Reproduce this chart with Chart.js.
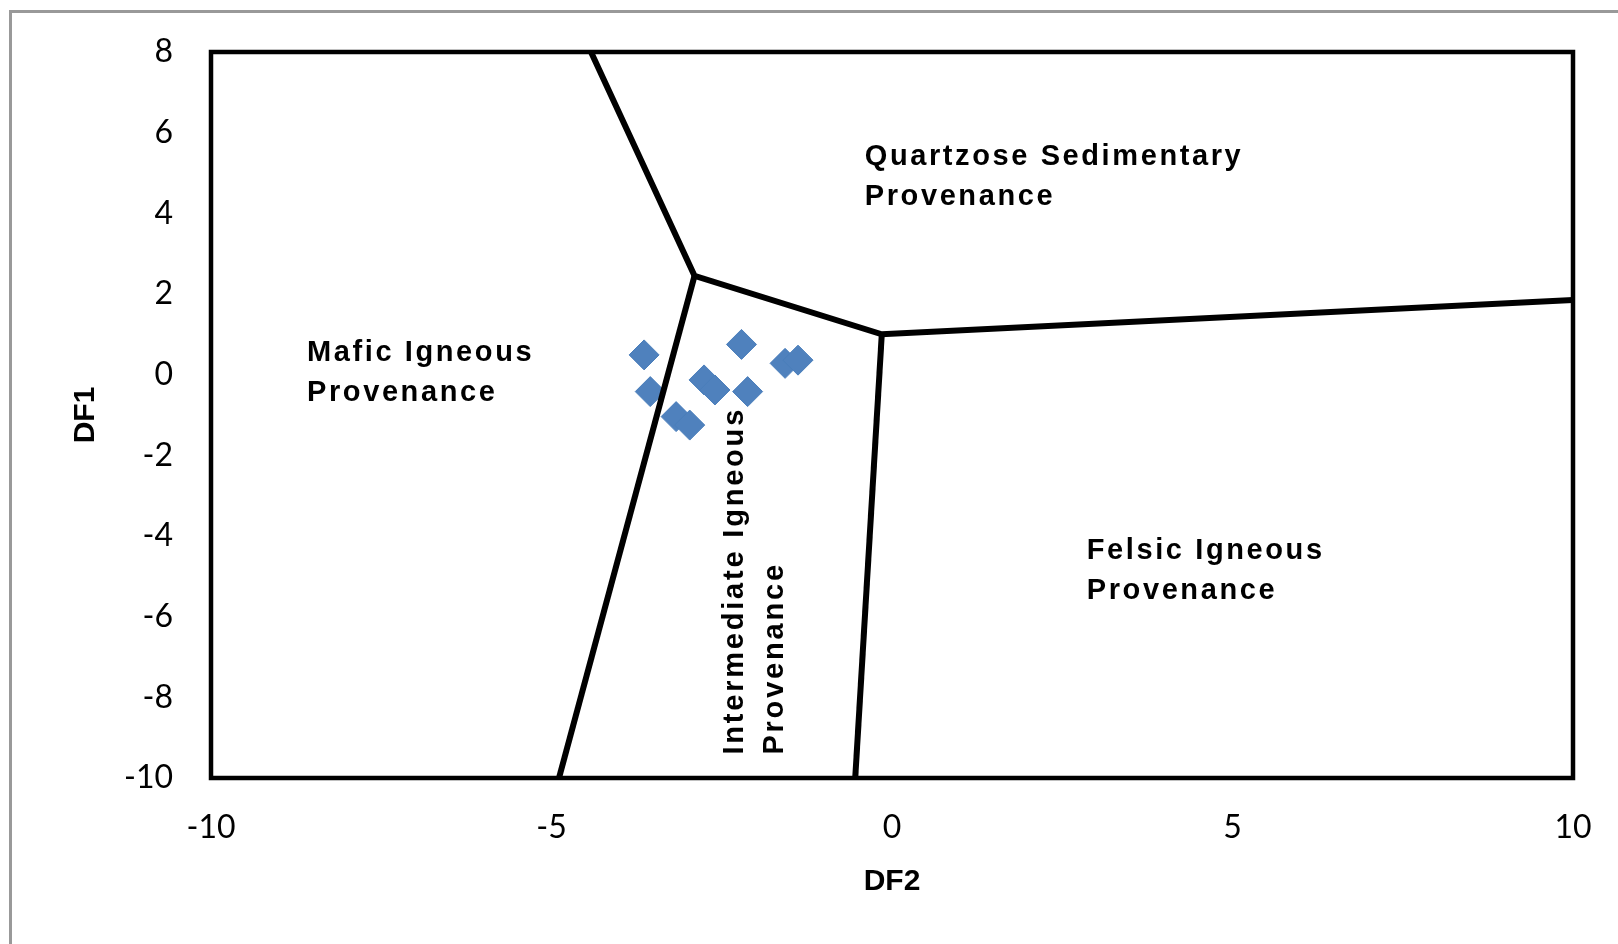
<!DOCTYPE html>
<html>
<head>
<meta charset="utf-8">
<title>DF1 vs DF2 provenance diagram</title>
<script src="https://cdn.jsdelivr.net/npm/chart.js@4.4.1/dist/chart.umd.min.js"></script>
<style>
  html, body { margin: 0; padding: 0; background: #fff; overflow: hidden; }
  #frame { position: absolute; left: 9px; top: 10px; width: 1700px; height: 1000px; border: 3px solid #999; }
  #wrap { position: absolute; left: 0; top: 0; width: 1618px; height: 944px; }
</style>
</head>
<body>
<div id="frame"></div>
<div id="wrap"><canvas id="chartDF" width="1618" height="944"></canvas></div>
<script>
// samples (DF2 on x, DF1 on y)
const sampleDF2 = [-3.64, -2.21, -1.57, -1.38, -3.55, -2.76, -2.60, -2.12, -3.17, -2.97];
const sampleDF1 = [0.49, 0.75, 0.28, 0.36, -0.42, -0.13, -0.38, -0.42, -1.04, -1.25];

// field boundaries
const upperBoundaryX = [-4.42, -2.9, -0.15, 10];
const upperBoundaryY = [8, 2.45, 1.0, 1.85];
const mafIntBoundaryX = [-4.89, -2.9];
const mafIntBoundaryY = [-10, 2.45];
const intFelBoundaryX = [-0.54, -0.15];
const intFelBoundaryY = [-10, 1.0];

// axis ticks
const df2Ticks = [-10, -5, 0, 5, 10];
const df1Ticks = [-10, -8, -6, -4, -2, 0, 2, 4, 6, 8];

const toPoints = (xs, ys) => xs.map((v, i) => ({ x: v, y: ys[i] }));

// field names, anchored in data units
const fieldLabels = [
  { lines: ["Quartzose Sedimentary", "Provenance"], x: -0.40, y: 5.40 },
  { lines: ["Mafic Igneous", "Provenance"], x: -8.59, y: 0.54 },
  { lines: ["Felsic Igneous", "Provenance"], x: 2.86, y: -4.37 },
  { lines: ["Intermediate Igneous", "Provenance"], x: -2.30, y: -9.42, vertical: true },
];

const plotBorder = {
  id: "plotBorder",
  beforeDatasetsDraw(chart) {
    const { ctx, chartArea: a } = chart;
    ctx.save();
    ctx.strokeStyle = "#000";
    ctx.lineWidth = 4.5;
    ctx.strokeRect(a.left, a.top, a.width, a.height);
    ctx.restore();
  },
};

const fieldText = {
  id: "fieldText",
  afterDatasetsDraw(chart) {
    const { ctx, scales: { x, y } } = chart;
    ctx.save();
    ctx.fillStyle = "#000";
    ctx.font = 'bold 29px "Liberation Sans", Arial, sans-serif';
    ctx.textAlign = "left";
    ctx.textBaseline = "middle";
    fieldLabels.forEach((f) => {
      ctx.save();
      if ("letterSpacing" in ctx) ctx.letterSpacing = f.vertical ? "2.8px" : "2.6px";
      ctx.translate(x.getPixelForValue(f.x), y.getPixelForValue(f.y));
      if (f.vertical) ctx.rotate(-Math.PI / 2);
      f.lines.forEach((t, i) => ctx.fillText(t, 0, i * 40));
      ctx.restore();
    });
    ctx.restore();
  },
};

// keep the plot area where the layout puts it (no extra room for edge labels)
const noEdgePadding = (s) => {
  s.paddingTop = 0;
  s.paddingBottom = 0;
  s.paddingLeft = 0;
  s.paddingRight = 0;
};

const lineStyle = {
  showLine: true,
  borderColor: "#000",
  borderWidth: 6,
  pointRadius: 0,
  pointHoverRadius: 0,
  fill: false,
  order: 0,
};

const tickFont = { family: "Lato", size: 32 };
const titleFont = { family: '"Liberation Sans", Arial', size: 30, weight: "bold" };

const ctx = document.getElementById("chartDF").getContext("2d");
new Chart(ctx, {
  type: "scatter",
  data: {
    datasets: [
      { ...lineStyle, label: "upper", data: toPoints(upperBoundaryX, upperBoundaryY) },
      { ...lineStyle, label: "mafic-int", data: toPoints(mafIntBoundaryX, mafIntBoundaryY) },
      { ...lineStyle, label: "int-felsic", data: toPoints(intFelBoundaryX, intFelBoundaryY) },
      {
        label: "Samples",
        data: toPoints(sampleDF2, sampleDF1),
        pointStyle: "rectRot",
        pointRadius: 15,
        pointBackgroundColor: "#4F81BD",
        pointBorderColor: "#4A7EBB",
        pointBorderWidth: 1,
        order: 1,
      },
    ],
  },
  options: {
    responsive: false,
    animation: false,
    layout: { padding: { top: 52, right: 45, bottom: 0, left: 0 } },
    plugins: {
      legend: { display: false },
      tooltip: { enabled: false },
    },
    scales: {
      x: {
        type: "linear",
        min: -10,
        max: 10,
        afterBuildTicks: (s) => { s.ticks = df2Ticks.map((v) => ({ value: v })); },
        afterFit: (s) => { s.height = 166; noEdgePadding(s); },
        grid: { display: false, drawTicks: false },
        border: { display: false },
        ticks: { color: "#000", font: tickFont, padding: 30, maxRotation: 0 },
        title: { display: true, text: "DF2", color: "#000", font: titleFont, padding: { top: 0, bottom: 44 } },
      },
      y: {
        type: "linear",
        min: -10,
        max: 8,
        afterBuildTicks: (s) => { s.ticks = df1Ticks.map((v) => ({ value: v })); },
        afterFit: (s) => { s.width = 211; noEdgePadding(s); },
        grid: { display: false, drawTicks: false },
        border: { display: false },
        ticks: { color: "#000", font: tickFont, padding: 38 },
        title: { display: true, text: "DF1", color: "#000", font: titleFont, padding: { top: 68, bottom: 0 } },
      },
    },
  },
  plugins: [plotBorder, fieldText],
});
</script>
</body>
</html>
